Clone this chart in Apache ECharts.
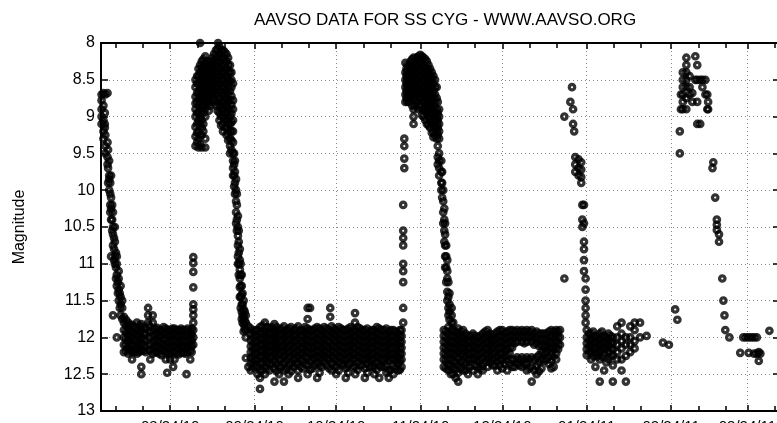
<!DOCTYPE html>
<html>
<head>
<meta charset="utf-8">
<script src="https://cdn.jsdelivr.net/npm/echarts@6/dist/echarts.min.js"></script>
<style>html,body{margin:0;padding:0;background:#fff;}#c{width:777px;height:423px;}</style>
</head>
<body>
<div id="c"></div>
<script>
// x values: days since 2010-08-24 ; each column = [day, mag, mag, ...]
const majorTickDays = [0, 31, 61, 92, 122, 153, 184, 212];
const majorTickLabels = ['08/24/10', '09/24/10', '10/24/10', '11/24/10', '12/24/10', '01/24/11', '02/24/11', '03/24/11'];
const minorTickDays = [-20, -10, 10, 20, 41, 51, 71, 81, 102, 112, 132, 142, 163, 173, 194, 204, 222];
const magTicks = [8, 8.5, 9, 9.5, 10, 10.5, 11, 11.5, 12, 12.5, 13];

const decline1 = [
  [-25.2, 8.70, 8.78, 8.9, 9.0, 9.1],
  [-24.5, 8.68, 8.85, 9.05, 9.2, 9.3],
  [-23.8, 8.7, 9.25, 9.4, 9.5],
  [-23.0, 8.68, 9.35, 9.55, 9.65],
  [-22.4, 9.6, 9.8, 9.85, 10.0],
  [-21.7, 9.8, 10.1, 10.25, 10.4, 10.9],
  [-21.0, 10.3, 10.5, 10.6, 10.75, 11.7],
  [-20.3, 10.5, 10.7, 10.9, 11.0],
  [-19.6, 10.9, 11.0, 11.15, 11.3, 12.0],
  [-18.9, 11.1, 11.2, 11.35, 11.5],
  [-18.2, 11.3, 11.45, 11.55, 11.7],
  [-17.6, 11.5, 11.6, 11.75]
];
const decline1b = [
  [-24.0, 8.95, 9.1, 9.15],
  [-22.8, 9.45, 9.7, 9.9],
  [-22.0, 9.9, 10.05, 10.2, 10.3],
  [-21.3, 10.2, 10.4, 10.55],
  [-20.6, 10.65, 10.8, 10.95],
  [-19.9, 10.85, 11.05, 11.2],
  [-19.2, 11.25, 11.4],
  [-18.5, 11.4, 11.6]
];
const quiet1 = [
  [-17.0, 11.72, 11.8, 11.9, 12.0, 12.1, 12.2],
  [-15.4, 11.8, 11.88, 11.97, 12.05, 12.14, 12.22],
  [-14.0, 11.83, 11.92, 12.0, 12.1, 12.2, 12.3],
  [-12.2, 11.8, 11.9, 11.98, 12.07, 12.16, 12.22],
  [-10.6, 11.82, 11.9, 12.0, 12.08, 12.18, 12.4, 12.5],
  [-9.0, 11.88, 11.95, 12.04, 12.12, 12.2],
  [-8.1, 11.6, 11.7, 11.8],
  [-7.3, 12.3],
  [-6.4, 11.7, 11.8, 11.9, 11.98, 12.07, 12.16, 12.22],
  [-4.8, 11.87, 11.95, 12.05, 12.13, 12.2],
  [-3.2, 11.9, 11.98, 12.08, 12.17, 12.24],
  [-1.6, 11.88, 11.95, 12.03, 12.12, 12.2, 12.3],
  [-1.1, 12.48],
  [0.0, 11.9, 11.97, 12.06, 12.14, 12.22, 12.3],
  [1.1, 12.4],
  [1.6, 11.88, 11.96, 12.05, 12.12, 12.2, 12.3],
  [3.2, 11.9, 11.98, 12.07, 12.16, 12.23],
  [4.8, 11.9, 11.97, 12.05, 12.13, 12.21],
  [6.0, 12.5],
  [6.4, 11.88, 11.96, 12.04, 12.12, 12.2],
  [7.4, 11.92, 12.0, 12.1, 12.18, 12.3],
  [8.5, 10.91, 10.99, 11.11, 11.32, 11.55, 11.62, 11.7, 11.8, 11.9, 12.0, 12.1]
];
const quiet1b = [
  [-16.2, 11.76, 11.84, 11.93, 12.02, 12.1, 12.18],
  [-14.8, 11.84, 11.92, 12.02, 12.1, 12.18],
  [-13.1, 11.86, 11.94, 12.03, 12.12, 12.2],
  [-11.4, 11.84, 11.94, 12.03, 12.12, 12.2],
  [-9.8, 11.86, 11.95, 12.02, 12.1, 12.18],
  [-7.6, 11.84, 11.92, 12.0, 12.1, 12.18],
  [-5.6, 11.88, 11.96, 12.04, 12.12, 12.2],
  [-4.0, 11.9, 11.98, 12.06, 12.14, 12.22],
  [-2.4, 11.86, 11.94, 12.02, 12.1, 12.18],
  [-0.8, 11.9, 11.98, 12.06, 12.14, 12.22],
  [0.8, 11.88, 11.96, 12.04, 12.12, 12.2],
  [2.4, 11.9, 11.98, 12.06, 12.14, 12.22],
  [4.0, 11.88, 11.96, 12.04, 12.12, 12.2],
  [5.6, 11.9, 11.98, 12.06, 12.14, 12.22],
  [7.9, 11.88, 11.96, 12.04, 12.12, 12.2]
];
const burst1 = [
  [9.3, 8.5, 8.6, 8.73, 8.82, 8.9, 9.0, 9.14, 9.27, 9.4],
  [10.4, 8.35, 8.45, 8.55, 8.65, 8.75, 8.85, 8.95, 9.05, 9.2, 9.3, 9.42],
  [11.0, 8.0],
  [11.6, 8.25, 8.35, 8.45, 8.55, 8.65, 8.75, 8.85, 8.95, 9.05, 9.15, 9.25, 9.42],
  [12.9, 8.18, 8.28, 8.4, 8.5, 8.6, 8.7, 8.8, 8.9, 9.0, 9.3, 9.42],
  [14.2, 8.3, 8.4, 8.5, 8.6, 8.7, 8.8, 8.92],
  [15.5, 8.2, 8.3, 8.4, 8.5, 8.6, 8.7, 8.8],
  [16.8, 8.1, 8.2, 8.3, 8.4, 8.5, 8.6, 8.7, 8.85],
  [17.6, 8.0],
  [18.1, 8.05, 8.15, 8.25, 8.35, 8.45, 8.55, 8.65, 8.75, 8.85, 8.95, 9.05],
  [19.4, 8.1, 8.2, 8.3, 8.4, 8.5, 8.6, 8.7, 8.8, 8.9, 9.0, 9.1, 9.2],
  [20.7, 8.15, 8.25, 8.35, 8.45, 8.55, 8.65, 8.75, 8.85, 8.95, 9.05, 9.15, 9.25],
  [22.0, 8.3, 8.4, 8.52, 8.65, 8.78, 8.9, 9.0, 9.1, 9.2, 9.3, 9.4, 9.5],
  [23.1, 8.55, 8.78, 8.9, 9.05, 9.2, 9.35, 9.5, 9.6, 9.7, 9.8]
];
const burst1b = [
  [9.9, 8.45, 8.55, 8.68, 8.8, 8.95, 9.1, 9.22, 9.35],
  [11.0, 8.3, 8.4, 8.5, 8.6, 8.7, 8.8, 8.9, 9.0, 9.1, 9.25, 9.38],
  [12.2, 8.22, 8.32, 8.45, 8.55, 8.65, 8.75, 8.85, 8.95, 9.1, 9.2],
  [13.5, 8.25, 8.35, 8.45, 8.55, 8.65, 8.75, 8.85],
  [14.8, 8.25, 8.35, 8.45, 8.55, 8.65, 8.75, 8.85],
  [16.1, 8.15, 8.25, 8.35, 8.45, 8.55, 8.65, 8.78],
  [17.4, 8.08, 8.18, 8.28, 8.38, 8.48, 8.58, 8.68, 8.8, 8.92],
  [18.7, 8.1, 8.2, 8.3, 8.4, 8.5, 8.6, 8.7, 8.8, 8.9, 9.0, 9.12],
  [20.0, 8.12, 8.22, 8.32, 8.42, 8.52, 8.62, 8.72, 8.82, 8.92, 9.02, 9.15],
  [21.3, 8.2, 8.3, 8.4, 8.5, 8.6, 8.7, 8.8, 8.9, 9.0, 9.1, 9.22, 9.32],
  [22.5, 8.4, 8.5, 8.6, 8.72, 8.84, 8.96, 9.08, 9.2, 9.32, 9.45]
];
const decline2 = [
  [23.5, 9.5, 9.65, 9.8, 9.95],
  [24.2, 9.85, 10.0, 10.15, 10.3, 10.45],
  [24.9, 10.35, 10.5, 10.62, 10.75, 10.9, 11.0],
  [25.6, 10.8, 10.95, 11.08, 11.2, 11.32, 11.45],
  [26.3, 11.15, 11.3, 11.42, 11.55, 11.65, 11.75],
  [27.0, 11.5, 11.62, 11.72, 11.82, 11.92],
  [27.8, 11.7, 11.8, 11.9, 12.0, 12.28],
  [28.7, 11.85, 12.4]
];
const decline2b = [
  [23.8, 9.6, 9.75, 9.9, 10.05],
  [24.5, 10.05, 10.2, 10.4, 10.55],
  [25.2, 10.55, 10.7, 10.85, 11.0, 11.15],
  [25.9, 11.0, 11.15, 11.3, 11.45, 11.6],
  [26.6, 11.4, 11.55, 11.7, 11.8],
  [27.4, 11.65, 11.78, 11.88]
];
const quiet2 = [
  [29.6, 11.88, 11.96, 12.04, 12.12, 12.2, 12.28, 12.36, 12.45],
  [31.3, 11.9, 11.98, 12.06, 12.14, 12.22, 12.3, 12.38],
  [33.0, 11.86, 11.94, 12.02, 12.1, 12.18, 12.26, 12.35, 12.45, 12.55, 12.7],
  [34.8, 11.8, 11.9, 11.98, 12.06, 12.14, 12.22, 12.3, 12.4, 12.5],
  [36.5, 11.88, 11.96, 12.04, 12.12, 12.2, 12.28, 12.36, 12.45],
  [38.3, 11.82, 11.9, 11.98, 12.06, 12.14, 12.22, 12.32, 12.42, 12.6],
  [40.0, 11.9, 11.98, 12.06, 12.14, 12.22, 12.3, 12.4, 12.5],
  [41.8, 11.85, 11.93, 12.01, 12.1, 12.18, 12.26, 12.35, 12.45, 12.6],
  [43.5, 11.88, 11.96, 12.04, 12.12, 12.2, 12.28, 12.38, 12.5],
  [45.3, 11.9, 11.98, 12.06, 12.14, 12.22, 12.3, 12.4],
  [47.0, 11.85, 11.93, 12.02, 12.1, 12.18, 12.26, 12.35, 12.45, 12.55],
  [48.8, 11.9, 11.98, 12.06, 12.14, 12.22, 12.32, 12.42],
  [50.5, 11.6, 11.75, 11.88, 11.96, 12.04, 12.12, 12.2, 12.28, 12.38, 12.5],
  [52.3, 11.9, 11.98, 12.06, 12.14, 12.22, 12.3, 12.42],
  [54.0, 11.86, 11.94, 12.02, 12.1, 12.18, 12.26, 12.35, 12.55],
  [55.8, 11.9, 11.98, 12.06, 12.14, 12.22, 12.3, 12.4],
  [57.5, 11.88, 11.96, 12.04, 12.12, 12.2, 12.28, 12.38],
  [58.8, 11.6, 11.72],
  [59.3, 11.85, 11.93, 12.01, 12.1, 12.18, 12.26, 12.35, 12.45],
  [61.0, 11.9, 11.98, 12.06, 12.14, 12.22, 12.3, 12.4, 12.5],
  [62.8, 11.88, 11.96, 12.04, 12.12, 12.2, 12.28, 12.36],
  [64.5, 11.9, 11.98, 12.06, 12.14, 12.22, 12.3, 12.42, 12.55],
  [66.3, 11.86, 11.94, 12.02, 12.1, 12.18, 12.26, 12.35],
  [67.9, 11.67, 11.8],
  [68.0, 11.9, 11.98, 12.06, 12.14, 12.22, 12.3, 12.4, 12.5],
  [69.8, 11.88, 11.96, 12.04, 12.12, 12.2, 12.28, 12.38],
  [71.5, 11.9, 11.98, 12.06, 12.14, 12.22, 12.3, 12.42, 12.55],
  [73.3, 11.92, 12.0, 12.08, 12.16, 12.24, 12.32, 12.4],
  [75.0, 11.9, 11.98, 12.06, 12.14, 12.22, 12.3, 12.4, 12.5],
  [76.8, 11.88, 11.96, 12.04, 12.12, 12.2, 12.28, 12.38, 12.55],
  [78.5, 11.9, 11.98, 12.06, 12.14, 12.22, 12.3, 12.4],
  [80.3, 11.92, 12.0, 12.08, 12.16, 12.24, 12.32, 12.45, 12.55],
  [82.0, 11.9, 11.98, 12.06, 12.14, 12.22, 12.3, 12.4, 12.5],
  [83.8, 11.95, 12.03, 12.11, 12.2, 12.28, 12.36, 12.45],
  [85.0, 11.9, 11.98, 12.06, 12.14, 12.22, 12.3, 12.4]
];
const quiet2b = [
  [30.4, 11.92, 12.0, 12.08, 12.16, 12.24, 12.32, 12.41],
  [32.1, 11.9, 11.98, 12.06, 12.14, 12.22, 12.31, 12.4, 12.5],
  [33.9, 11.84, 11.94, 12.02, 12.1, 12.18, 12.26, 12.35, 12.45],
  [35.6, 11.86, 11.94, 12.02, 12.1, 12.18, 12.26, 12.34, 12.42],
  [37.4, 11.86, 11.94, 12.02, 12.1, 12.18, 12.26, 12.36],
  [39.1, 11.86, 11.94, 12.02, 12.1, 12.18, 12.26, 12.36, 12.46],
  [40.9, 11.88, 11.96, 12.04, 12.12, 12.2, 12.3, 12.4],
  [42.6, 11.9, 11.98, 12.06, 12.14, 12.22, 12.31, 12.42],
  [44.4, 11.86, 11.94, 12.02, 12.1, 12.18, 12.26, 12.36, 12.46],
  [46.1, 11.88, 11.96, 12.04, 12.12, 12.2, 12.28, 12.36],
  [47.9, 11.9, 11.98, 12.06, 12.14, 12.22, 12.3, 12.4],
  [49.6, 11.86, 11.94, 12.02, 12.1, 12.18, 12.26, 12.36],
  [51.4, 11.6, 11.9, 11.98, 12.06, 12.14, 12.22, 12.32, 12.44],
  [53.1, 11.88, 11.96, 12.04, 12.12, 12.2, 12.28, 12.38],
  [54.9, 11.88, 11.96, 12.04, 12.12, 12.2, 12.28, 12.38, 12.48],
  [56.6, 11.86, 11.94, 12.02, 12.1, 12.18, 12.26, 12.34],
  [58.4, 11.9, 11.98, 12.06, 12.14, 12.22, 12.3, 12.42],
  [60.1, 11.88, 11.96, 12.04, 12.12, 12.2, 12.28, 12.38],
  [61.9, 11.86, 11.94, 12.02, 12.1, 12.18, 12.26, 12.34, 12.45],
  [63.6, 11.9, 11.98, 12.06, 12.14, 12.22, 12.3, 12.38],
  [65.4, 11.88, 11.96, 12.04, 12.12, 12.2, 12.28, 12.38, 12.48],
  [67.1, 11.9, 11.98, 12.06, 12.14, 12.22, 12.3, 12.4],
  [68.9, 11.86, 11.94, 12.02, 12.1, 12.18, 12.26, 12.34, 12.44],
  [70.6, 11.9, 11.98, 12.06, 12.14, 12.22, 12.3, 12.38],
  [72.4, 11.88, 11.96, 12.04, 12.12, 12.2, 12.28, 12.36, 12.48],
  [74.1, 11.9, 11.98, 12.06, 12.14, 12.22, 12.3, 12.4],
  [75.9, 11.86, 11.94, 12.02, 12.1, 12.18, 12.26, 12.34, 12.44],
  [77.6, 11.9, 11.98, 12.06, 12.14, 12.22, 12.3, 12.4],
  [79.4, 11.88, 11.96, 12.04, 12.12, 12.2, 12.28, 12.38, 12.48],
  [81.1, 11.9, 11.98, 12.06, 12.14, 12.22, 12.3, 12.44],
  [82.9, 11.92, 12.0, 12.08, 12.16, 12.24, 12.32, 12.42],
  [84.4, 11.9, 11.98, 12.06, 12.14, 12.22, 12.32, 12.44]
];
const burst2 = [
  [85.6, 11.8, 11.6, 11.25, 11.1, 11.0, 10.75, 10.65, 10.55, 10.2],
  [86.0, 9.7, 9.57, 9.4, 9.3],
  [86.4, 8.8, 8.7, 8.6, 8.5, 8.4, 8.27],
  [87.2, 8.3, 8.4, 8.5, 8.6, 8.7, 8.8],
  [88.3, 8.25, 8.35, 8.45, 8.55, 8.65, 8.75],
  [89.4, 8.2, 8.3, 8.4, 8.5, 8.6, 8.7, 8.9, 9.0, 9.1],
  [90.6, 8.2, 8.3, 8.4, 8.5, 8.6, 8.7, 8.8],
  [91.9, 8.16, 8.26, 8.36, 8.46, 8.56, 8.66, 8.76, 8.86],
  [93.1, 8.2, 8.3, 8.4, 8.5, 8.6, 8.7, 8.8, 8.9, 9.0],
  [94.3, 8.25, 8.35, 8.45, 8.55, 8.65, 8.75, 8.85, 8.95, 9.1],
  [95.5, 8.35, 8.45, 8.55, 8.65, 8.75, 8.85, 8.95, 9.05, 9.15],
  [96.7, 8.45, 8.55, 8.65, 8.75, 8.85, 8.95, 9.05, 9.2, 9.28],
  [97.9, 8.6, 8.75, 8.9, 9.0, 9.1, 9.2, 9.3],
  [98.8, 8.9, 9.0, 9.1, 9.2, 9.3, 9.5, 9.6, 9.7, 9.8]
];
const burst2b = [
  [86.8, 8.35, 8.45, 8.55, 8.65, 8.75],
  [87.8, 8.3, 8.4, 8.5, 8.6, 8.7, 8.8],
  [88.9, 8.22, 8.32, 8.42, 8.52, 8.62, 8.72, 8.85],
  [90.0, 8.25, 8.35, 8.45, 8.55, 8.65, 8.75, 8.85],
  [91.2, 8.18, 8.28, 8.38, 8.48, 8.58, 8.68, 8.78, 8.9],
  [92.5, 8.18, 8.28, 8.38, 8.48, 8.58, 8.68, 8.78, 8.9, 8.98],
  [93.7, 8.22, 8.32, 8.42, 8.52, 8.62, 8.72, 8.82, 8.92, 9.05],
  [94.9, 8.3, 8.4, 8.5, 8.6, 8.7, 8.8, 8.9, 9.0, 9.12],
  [96.1, 8.4, 8.5, 8.6, 8.7, 8.8, 8.9, 9.0, 9.1, 9.22],
  [97.3, 8.5, 8.6, 8.7, 8.82, 8.95, 9.05, 9.15, 9.25],
  [98.3, 8.8, 8.95, 9.05, 9.15, 9.25, 9.4, 9.55, 9.65]
];
const decline3 = [
  [99.6, 9.6, 9.75, 9.9, 10.0],
  [100.3, 10.0, 10.15, 10.3, 10.45],
  [101.0, 10.45, 10.6, 10.75, 10.9, 11.05],
  [101.8, 10.95, 11.1, 11.2, 11.38, 11.5],
  [102.6, 11.4, 11.55, 11.65, 11.76],
  [103.4, 11.6, 11.7, 11.8]
];
const decline3b = [
  [99.9, 9.75, 9.9, 10.1],
  [100.7, 10.25, 10.4, 10.55, 10.7],
  [101.4, 10.75, 10.9, 11.05, 11.25],
  [102.2, 11.25, 11.45, 11.6, 11.7]
];
const quiet3 = [
  [100.5, 11.9, 11.98, 12.06, 12.14, 12.22, 12.3, 12.4],
  [102.2, 11.86, 11.95, 12.04, 12.13, 12.22, 12.3, 12.38, 12.45],
  [104.0, 11.8, 11.9, 11.98, 12.06, 12.14, 12.22, 12.32, 12.42, 12.5],
  [105.8, 11.88, 11.96, 12.04, 12.12, 12.2, 12.28, 12.38, 12.48, 12.6],
  [107.6, 11.9, 11.98, 12.06, 12.14, 12.22, 12.32, 12.45],
  [109.4, 11.98, 12.06, 12.14, 12.22, 12.3, 12.4, 12.5],
  [111.2, 11.95, 12.03, 12.11, 12.2, 12.3, 12.45],
  [113.0, 12.0, 12.08, 12.16, 12.24, 12.32, 12.4, 12.5],
  [114.8, 11.95, 12.03, 12.11, 12.2, 12.28, 12.38, 12.45],
  [116.6, 11.9, 11.98, 12.06, 12.14, 12.22, 12.3, 12.4],
  [118.4, 11.98, 12.06, 12.14, 12.22, 12.3, 12.38],
  [120.2, 11.92, 12.0, 12.08, 12.16, 12.25, 12.33, 12.45],
  [122.0, 11.9, 11.98, 12.06, 12.14, 12.22, 12.3, 12.42],
  [123.8, 11.92, 12.0, 12.08, 12.16, 12.24, 12.32, 12.45],
  [125.6, 11.9, 11.98, 12.06, 12.14, 12.3, 12.4],
  [127.4, 11.9, 11.98, 12.06, 12.27, 12.35],
  [129.2, 11.9, 11.98, 12.06, 12.27, 12.4],
  [131.0, 11.9, 11.98, 12.06, 12.27, 12.35, 12.45],
  [132.8, 11.9, 11.98, 12.06, 12.27, 12.4, 12.6],
  [134.6, 11.92, 12.0, 12.08, 12.27, 12.38, 12.5],
  [136.4, 11.95, 12.03, 12.11, 12.2, 12.3, 12.42],
  [138.2, 11.95, 12.04, 12.12, 12.2, 12.3],
  [140.0, 11.9, 11.98, 12.06, 12.14, 12.22, 12.32, 12.42],
  [141.8, 11.9, 11.98, 12.06, 12.14, 12.22, 12.3],
  [143.2, 11.9, 12.0, 12.1]
];
const quiet3b = [
  [101.3, 11.92, 12.0, 12.08, 12.16, 12.24, 12.32, 12.42],
  [103.1, 11.9, 11.98, 12.06, 12.14, 12.22, 12.3, 12.4, 12.5],
  [104.9, 11.92, 12.0, 12.08, 12.16, 12.24, 12.34, 12.44, 12.55],
  [106.7, 11.92, 12.0, 12.08, 12.16, 12.24, 12.34, 12.42],
  [108.5, 11.95, 12.02, 12.1, 12.18, 12.26, 12.35, 12.45],
  [110.3, 11.98, 12.06, 12.14, 12.22, 12.3, 12.4],
  [112.1, 11.98, 12.06, 12.14, 12.22, 12.3, 12.38],
  [113.9, 11.98, 12.06, 12.14, 12.22, 12.3, 12.42],
  [115.7, 11.92, 12.0, 12.08, 12.16, 12.24, 12.34],
  [117.5, 11.95, 12.02, 12.1, 12.18, 12.26, 12.34],
  [119.3, 11.95, 12.03, 12.11, 12.2, 12.28, 12.38],
  [121.1, 11.9, 11.98, 12.06, 12.14, 12.22, 12.3, 12.38],
  [122.9, 11.94, 12.02, 12.1, 12.18, 12.26, 12.36],
  [124.7, 11.9, 11.98, 12.06, 12.14, 12.22, 12.36],
  [126.5, 11.92, 12.0, 12.08, 12.3, 12.4],
  [128.3, 11.92, 12.0, 12.3, 12.38],
  [130.1, 11.92, 12.0, 12.08, 12.3, 12.36],
  [131.9, 11.92, 12.0, 12.3, 12.42],
  [133.7, 11.94, 12.02, 12.1, 12.3, 12.45],
  [135.5, 11.95, 12.03, 12.12, 12.24, 12.34, 12.46],
  [137.3, 11.95, 12.03, 12.12, 12.22, 12.32],
  [139.1, 11.92, 12.0, 12.08, 12.16, 12.26, 12.36],
  [140.9, 11.92, 12.0, 12.08, 12.16, 12.26, 12.4],
  [142.5, 11.92, 12.0, 12.08, 12.16]
];
const burst3 = [
  [144.8, 9.0, 11.2],
  [147.0, 8.8],
  [147.6, 8.6],
  [148.0, 8.9, 9.1],
  [148.4, 9.2],
  [148.8, 9.55, 9.65, 9.75],
  [150.0, 9.58, 9.7, 9.8],
  [151.0, 9.62, 9.72, 9.82, 9.9],
  [151.4, 10.2, 10.4, 10.5],
  [152.0, 10.2, 10.45, 10.7, 10.8, 10.95, 11.1],
  [152.6, 11.2, 11.35, 11.5, 11.6, 11.7, 11.8]
];
const quiet4 = [
  [153.0, 11.9, 12.0, 12.08, 12.16, 12.24],
  [154.6, 11.95, 12.03, 12.11, 12.2, 12.3],
  [156.2, 11.98, 12.06, 12.14, 12.22, 12.4],
  [157.8, 11.95, 12.03, 12.11, 12.2, 12.3, 12.6],
  [159.4, 11.98, 12.06, 12.14, 12.22, 12.45],
  [161.0, 11.95, 12.03, 12.11, 12.2, 12.3],
  [162.6, 12.0, 12.08, 12.16, 12.24, 12.38, 12.6],
  [164.2, 11.85, 12.0, 12.1, 12.2, 12.3],
  [165.8, 11.8, 11.95, 12.05, 12.15, 12.3, 12.45],
  [167.4, 12.0, 12.1, 12.25, 12.6],
  [169.0, 11.85, 12.0, 12.1, 12.2],
  [170.6, 11.8, 11.9, 12.05, 12.15],
  [172.6, 11.8, 12.0],
  [175.0, 11.98],
  [181.0, 12.07],
  [183.2, 12.1],
  [185.5, 11.62],
  [186.3, 11.76]
];
const quiet4b = [
  [153.8, 11.95, 12.04, 12.12, 12.2],
  [155.4, 11.92, 12.0, 12.08, 12.16, 12.26],
  [157.0, 12.0, 12.08, 12.16, 12.26],
  [158.6, 11.92, 12.0, 12.08, 12.16, 12.26],
  [160.2, 12.0, 12.08, 12.16, 12.34],
  [161.8, 11.98, 12.06, 12.14, 12.26]
];
const burst4 = [
  [187.2, 9.5, 9.2],
  [187.6, 8.7, 8.9],
  [188.3, 8.4, 8.5, 8.6, 8.7, 8.8, 8.9],
  [189.6, 8.2, 8.3, 8.4, 8.5, 8.6, 8.75, 8.9],
  [190.8, 8.45, 8.6, 8.7],
  [191.8, 8.68, 8.8],
  [192.9, 8.18, 8.5],
  [193.6, 8.3, 8.5, 8.8, 9.1],
  [194.7, 8.5, 9.1],
  [195.5, 8.5, 8.6],
  [196.6, 8.5, 8.7],
  [197.3, 8.7, 8.9],
  [197.6, 8.8, 8.9],
  [199.2, 9.7],
  [199.5, 9.62],
  [200.2, 10.1],
  [200.8, 10.4, 10.47, 10.54],
  [201.6, 10.6, 10.7],
  [202.8, 11.2],
  [203.2, 11.5],
  [203.6, 11.7],
  [203.9, 11.9],
  [205.4, 12.0]
];
const tail = [
  [209.4, 12.21],
  [210.5, 12.0],
  [211.5, 12.0],
  [212.5, 12.0, 12.21],
  [213.5, 12.0],
  [214.5, 12.0, 12.22],
  [215.5, 12.0, 12.22],
  [216.2, 12.32, 12.2],
  [216.8, 12.22],
  [220.1, 11.91]
];

const columns = [].concat(decline1, decline1b, quiet1, quiet1b, burst1, burst1b, decline2, decline2b,
  quiet2, quiet2b, burst2, burst2b, decline3, decline3b, quiet3, quiet3b, burst3, quiet4, quiet4b, burst4, tail);
const points = [];
columns.forEach(function (col) {
  for (let i = 1; i < col.length; i++) points.push([col[0], col[i]]);
});

const FONT = 'Liberation Sans';
const xMin = -25.4, xMax = 224;
const axisLineStyle = { color: '#000', width: 2 };
const tickStyle = { color: '#000', width: 1.5 };
const gridLineStyle = { type: [1, 3], color: '#888', width: 1 };

const chart = echarts.init(document.getElementById('c'), null, { renderer: 'canvas' });
chart.setOption({
  animation: false,
  backgroundColor: '#fff',
  title: {
    text: 'AAVSO DATA FOR SS CYG - WWW.AAVSO.ORG',
    left: 440, top: 7, textAlign: 'center',
    textStyle: { fontFamily: FONT, fontSize: 17, fontWeight: 'normal', color: '#000' }
  },
  grid: { left: 101, right: -3, top: 43, bottom: 12, containLabel: false, outerBoundsMode: 'none' },
  xAxis: [
    { // bottom: line, major ticks, labels
      type: 'value', min: xMin, max: xMax, position: 'bottom',
      axisLine: { show: true, onZero: false, lineStyle: axisLineStyle },
      axisTick: { show: true, inside: true, length: 6, customValues: majorTickDays, lineStyle: tickStyle },
      axisLabel: {
        show: true, customValues: majorTickDays, margin: 8, hideOverlap: false,
        fontFamily: FONT, fontSize: 15, color: '#000',
        formatter: function (v) { const k = majorTickDays.indexOf(Math.round(v)); return k >= 0 ? majorTickLabels[k] : ''; }
      },
      splitLine: { show: true, lineStyle: gridLineStyle }
    },
    { // top: line, major ticks
      type: 'value', min: xMin, max: xMax, position: 'top',
      axisLine: { show: true, onZero: false, lineStyle: axisLineStyle },
      axisTick: { show: true, inside: true, length: 6, customValues: majorTickDays, lineStyle: tickStyle },
      axisLabel: { show: false },
      splitLine: { show: false }
    },
    { // bottom minor ticks
      type: 'value', min: xMin, max: xMax, position: 'bottom',
      axisLine: { show: false },
      axisTick: { show: true, inside: true, length: 5, customValues: minorTickDays, lineStyle: tickStyle },
      axisLabel: { show: false },
      splitLine: { show: false }
    },
    { // top minor ticks
      type: 'value', min: xMin, max: xMax, position: 'top',
      axisLine: { show: false },
      axisTick: { show: true, inside: true, length: 5, customValues: minorTickDays, lineStyle: tickStyle },
      axisLabel: { show: false },
      splitLine: { show: false }
    }
  ],
  yAxis: [
    {
      type: 'value', inverse: true, min: magTicks[0], max: magTicks[magTicks.length - 1], interval: 0.5, position: 'left',
      name: 'Magnitude', nameLocation: 'middle', nameGap: 73, nameRotate: 90,
      nameTextStyle: { fontFamily: FONT, fontSize: 16, color: '#000' },
      axisLine: { show: true, onZero: false, lineStyle: axisLineStyle },
      axisTick: { show: true, inside: true, length: 7, lineStyle: tickStyle },
      axisLabel: { fontFamily: FONT, fontSize: 16, color: '#000', margin: 6 },
      splitLine: { show: true, lineStyle: gridLineStyle }
    },
    {
      type: 'value', inverse: true, min: magTicks[0], max: magTicks[magTicks.length - 1], interval: 0.5, position: 'right',
      axisLine: { show: true, onZero: false, lineStyle: axisLineStyle },
      axisTick: { show: true, inside: true, length: 7, lineStyle: tickStyle },
      axisLabel: { show: false },
      splitLine: { show: false }
    }
  ],
  series: [{
    type: 'scatter', xAxisIndex: 0, yAxisIndex: 0, data: points,
    symbol: 'circle', symbolSize: 5.4, clip: false, large: false,
    itemStyle: { color: 'rgba(0,0,0,0)', borderColor: '#000', borderWidth: 3.3 },
    emphasis: { disabled: true }, silent: true
  }]
});
</script>
</body>
</html>
